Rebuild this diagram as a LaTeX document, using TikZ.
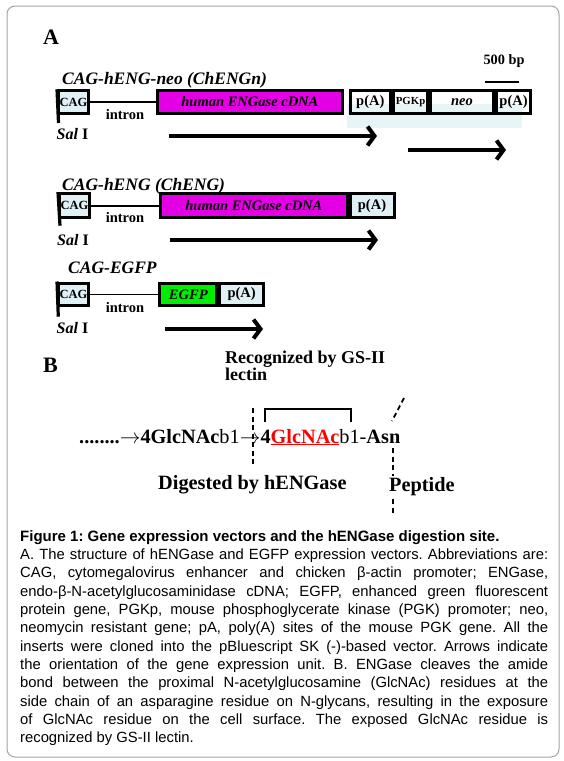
\documentclass[tikz,border=0pt]{standalone}
\usepackage{fontspec}
\setmainfont{Liberation Serif}
\newfontfamily\capfont{Liberation Sans}
\usepackage{xcolor}
\usetikzlibrary{arrows.meta, positioning}
\definecolor{cagcyan}{HTML}{DFF1F5}
\definecolor{cdnapink}{HTML}{E400E4}
\definecolor{gfpgreen}{HTML}{00EE00}
\definecolor{blotch}{HTML}{E8F5F7}
\definecolor{framegray}{HTML}{A3A3A3}
\newcommand{\fsz}[1]{\fontsize{#1}{#1}\selectfont}
\frenchspacing
\tikzset{
  frame/.style={draw=framegray, line width=1pt, rounded corners=8pt},
  panel/.style={font=\bfseries\fsz{22}, inner sep=0pt},
  vectitle/.style={font=\bfseries\itshape\fsz{17.5}, inner sep=0pt},
  cagbox/.style={rectangle, draw, line width=3pt, fill=cagcyan, minimum width=30pt, minimum height=22.5pt, font=\bfseries\fsz{12.5}, inner sep=0pt},
  cdnabox/.style={rectangle, draw, line width=3pt, fill=cdnapink, minimum height=22.5pt, font=\bfseries\itshape\fsz{14.5}, inner sep=0pt},
  gfpbox/.style={rectangle, draw, line width=3pt, fill=gfpgreen, minimum height=22.5pt, font=\bfseries\itshape\fsz{14.5}, inner sep=0pt},
  pabox/.style={rectangle, draw, line width=3pt, minimum height=22.5pt, font=\bfseries\fsz{14.5}, inner sep=0pt},
  stem/.style={line width=3.2pt},
  intronline/.style={line width=1.4pt},
  intronlabel/.style={font=\bfseries\fsz{14.5}, inner sep=0pt},
  sallabel/.style={font=\bfseries\fsz{16}, inner sep=0pt},
  exparrow/.style={line width=4.3pt, -{Straight Barb[length=7pt, width=19pt, line width=4pt]}},
  scalebar/.style={line width=2.2pt},
  cutline/.style={line width=1.8pt, dash pattern=on 5pt off 3.5pt},
  bracketline/.style={line width=2pt},
  bigtext/.style={font=\bfseries\fsz{20.3}, inner sep=0pt},
  seqtext/.style={font=\fsz{20.3}, inner sep=0pt},
  caption/.style={text width=528pt, align=justify, inner sep=0pt, font=\capfont\fontsize{14.8}{18.35}\selectfont},
}

\begin{document}
\begin{tikzpicture}[x=1pt, y=-1pt]
  \useasboundingbox (0,0) rectangle (563,761);
  \draw[frame] (7,6) rectangle (559,757);

  \node (panelA) [panel, anchor=base west] at (43,44) {A};
  \node (scale) [sallabel, font=\bfseries\fsz{14.3}, anchor=base] at (504,64) {500 bp};
  \coordinate (bar1) at (485,82);
  \coordinate (bar2) at (519,82);
  \draw[scalebar] (bar1) -- (bar2);

  \node (title1) [vectitle, anchor=base west] at (62,84) {CAG-hENG-neo (ChENGn)};
  \fill[blotch] (347,104) rectangle (522,128);
  \node (cag1) [cagbox] at (73.5,102) {CAG};
  \node (cdna1) [cdnabox, minimum width=184.3pt] at (249.9,102) {human ENGase cDNA};
  \node (pa1) [pabox, minimum width=40.5pt, right=5pt of cdna1] {p(A)};
  \node (pgk1) [pabox, minimum width=34pt, font=\bfseries\fsz{10.8}, right=0pt of pa1] {PGKp};
  \node (neo1) [pabox, minimum width=63pt, font=\bfseries\itshape\fsz{14.5}, right=0pt of pgk1] {neo};
  \node (pa2) [pabox, minimum width=34pt, right=0pt of neo1] {p(A)};
  \coordinate (sal1) at (58.5,123);
  \draw[intronline] (cag1) -- (cdna1);
  \draw[stem] (cag1.north west) -- (sal1);
  \node (intron1) [intronlabel, anchor=base] at (125,119) {intron};
  \node (salname1) [sallabel, anchor=base west] at (56.5,139.5) {\textit{Sal} I};
  \coordinate (arr1s) at (169,136);
  \coordinate (arr1e) at (377,136);
  \coordinate (arr2s) at (408,150);
  \coordinate (arr2e) at (506,150);
  \draw[exparrow] (arr1s) -- (arr1e);
  \draw[exparrow] (arr2s) -- (arr2e);

  \node (title2) [vectitle, anchor=base west] at (62,190.5) {CAG-hENG (ChENG)};
  \node (cag2) [cagbox, minimum height=24.3pt] at (74.5,205.8) {CAG};
  \node (cdna2) [cdnabox, minimum width=186.2pt, minimum height=24.3pt] at (253.9,205.8) {human ENGase cDNA};
  \node (pa3) [pabox, fill=cagcyan, minimum width=44pt, minimum height=24.3pt, right=0pt of cdna2] {p(A)};
  \coordinate (sal2) at (60,225.7);
  \draw[intronline] (cag2) -- (cdna2);
  \draw[stem] (cag2.north west) -- (sal2);
  \node (intron2) [intronlabel, anchor=base] at (125,222) {intron};
  \node (salname2) [sallabel, anchor=base west] at (57,245) {\textit{Sal} I};
  \coordinate (arr3s) at (170,240);
  \coordinate (arr3e) at (378,240);
  \draw[exparrow] (arr3s) -- (arr3e);

  \node (title3) [vectitle, anchor=base west] at (68,273.3) {CAG-EGFP};
  \node (cag3) [cagbox, minimum height=22.8pt] at (73.5,294.4) {CAG};
  \node (egfp) [gfpbox, minimum width=56.7pt, minimum height=22.8pt] at (188.3,294.4) {EGFP};
  \node (pa4) [pabox, fill=cagcyan, minimum width=44.1pt, minimum height=22.8pt, right=0pt of egfp] {p(A)};
  \coordinate (sal3) at (58.3,316.7);
  \draw[intronline] (cag3) -- (egfp);
  \draw[stem] (cag3.north west) -- (sal3);
  \node (intron3) [intronlabel, anchor=base] at (125,312) {intron};
  \node (salname3) [sallabel, anchor=base west] at (56.5,333) {\textit{Sal} I};
  \coordinate (arr4s) at (165,329);
  \coordinate (arr4e) at (263,329);
  \draw[exparrow] (arr4s) -- (arr4e);

  \node (panelB) [panel, anchor=base west] at (43,372) {B};
  \node (lectin) [bigtext, font=\bfseries\fsz{18}, align=left, anchor=base west] at (225,380) {Recognized by GS-II\\[-1pt]lectin};
  \node (chain) [seqtext, anchor=base west] at (79,443)
    {\textbf{........$\rightarrow$4GlcNAc}b1$\rightarrow$\textbf{4}\textcolor{red}{\bfseries\underline{GlcNAc}}b1-\textbf{Asn}};
  \coordinate (cut1) at (253,408);
  \coordinate (cut2) at (253,467);
  \draw[cutline] (cut1) -- (cut2);
  \coordinate (br1) at (265,422);
  \coordinate (br2) at (351,422);
  \draw[bracketline] (br1) |- (308,409) -| (br2);
  \coordinate (pep1) at (404,398);
  \coordinate (pep2) at (392,421);
  \draw[cutline] (pep1) -- (pep2);
  \coordinate (pep3) at (393,448);
  \coordinate (pep4) at (393,515);
  \draw[cutline] (pep3) -- (pep4);
  \node (digest) [bigtext, anchor=base west] at (158,489) {Digested by hENGase};
  \node (peptide) [bigtext, fill=white, inner sep=1pt, anchor=base west] at (388,491) {Peptide};

  \node (cap) [caption, anchor=base west] at (20,541)
    {{\bfseries\fontsize{15}{18.35}\selectfont Figure 1: Gene expression vectors and the hENGase digestion site.}\\
     A. The structure of hENGase and EGFP expression vectors. Abbreviations are:\linebreak
     CAG, cytomegalovirus enhancer and chicken β-actin promoter; ENGase,\linebreak
     endo-β-N-acetylglucosaminidase cDNA; EGFP, enhanced green fluorescent\linebreak
     protein gene, PGKp, mouse phosphoglycerate kinase (PGK) promoter; neo,\linebreak
     neomycin resistant gene; pA, poly(A) sites of the mouse PGK gene. All the\linebreak
     inserts were cloned into the pBluescript SK (-)-based vector. Arrows indicate\linebreak
     the orientation of the gene expression unit. B. ENGase cleaves the amide\linebreak
     bond between the proximal N-acetylglucosamine (GlcNAc) residues at the\linebreak
     side chain of an asparagine residue on N-glycans, resulting in the exposure\linebreak
     of GlcNAc residue on the cell surface. The exposed GlcNAc residue is\linebreak
     recognized by GS-II lectin.};
\end{tikzpicture}
\end{document}
